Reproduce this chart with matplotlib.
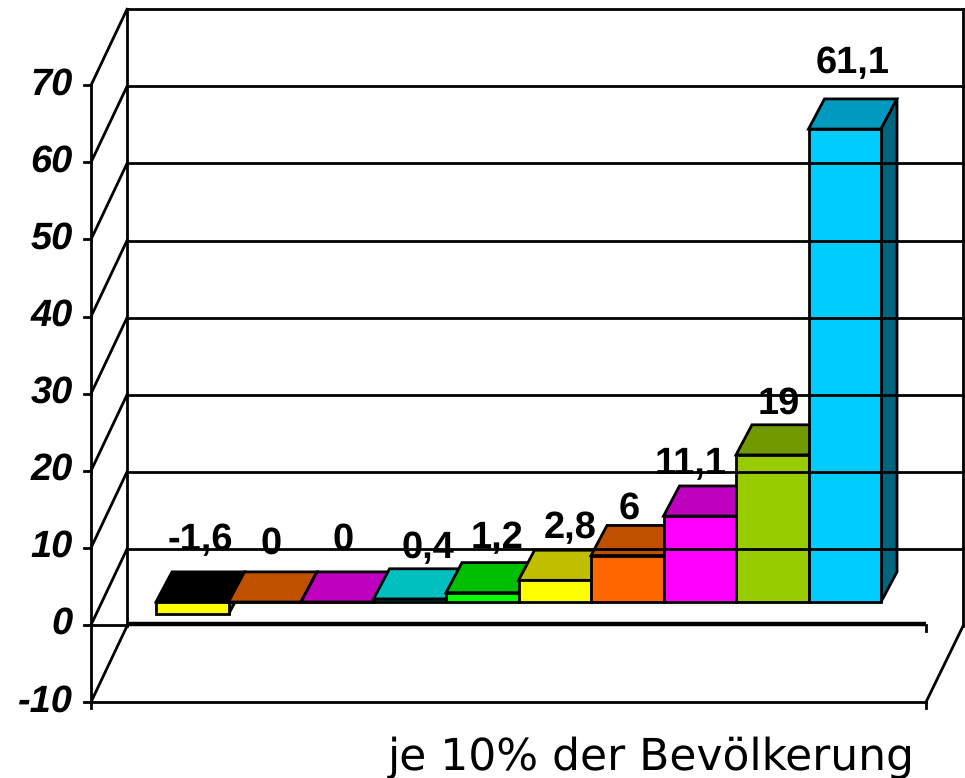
import matplotlib
matplotlib.use("Agg")
import matplotlib.pyplot as plt
from matplotlib.transforms import Affine2D
from matplotlib.patches import Polygon

plt.rcParams["text.hinting"] = "no_hinting"
plt.rcParams["text.hinting_factor"] = 1

values = [-1.6, 0, 0, 0.4, 1.2, 2.8, 6, 11.1, 19, 61.1]
labels = ["-1,6", "0", "0", "0,4", "1,2", "2,8", "6", "11,1", "19", "61,1"]
yticks = [-10, 0, 10, 20, 30, 40, 50, 60, 70]
xlabel = "je 10% der Bevölkerung"
front_colors = ["#FFFF00", "#FF6600", "#FF00FF", "#00FFFF", "#00FF00", "#FFFF00", "#FF6600", "#FF00FF", "#99CC00", "#00CCFF"]
top_colors = ["#000000", "#BF5000", "#BF00BF", "#00BFBF", "#00BF00", "#BFBF00", "#BF5000", "#BF00BF", "#739900", "#0099BF"]
side_colors = ["#808000", "#803300", "#800080", "#008080", "#008000", "#808000", "#803300", "#800080", "#4D6600", "#006680"]
# label centre in pixels relative to the bar top (dx, dy)
label_dx = [8, 6, 6, 18, 15, 15, 2, -9, 7, 8]
label_dy = [-62, -58, -62, -51, -54, -52, -47, -52, -51, -66]

W, H = 965, 778
PX_Y = 7.71
ZERO_PX = 625
STEP = 72.5
fig = plt.figure(figsize=(W / 100, H / 100), dpi=100, facecolor="white")
ax = fig.add_axes([0, 0, 1, 1])
ax.set_xlim(-192.25 / STEP, (W - 192.25) / STEP)
ax.set_ylim(-(H - ZERO_PX) / PX_Y, ZERO_PX / PX_Y)
ax.axis("off")

FONT = "Liberation Sans"
LW = 2.0
wall_l = -0.5 - 65 / STEP
wall_r = 9.5 + 45 / STEP
ymin, ymax = yticks[0], yticks[-1]
zero_disp = H - ZERO_PX
back_dx = 36 / STEP
back_dy = 76 / PX_Y

depth = ax.transData + Affine2D().translate(36, 76)          # back wall
bar_f = ax.transData + Affine2D().translate(0, -zero_disp).scale(1, 1.004).translate(0, zero_disp + 23)

line = dict(color="black", lw=LW, solid_capstyle="projecting", clip_on=False)

# back wall
for t in yticks[1:]:
    ax.plot([wall_l, wall_r + 1 / STEP], [t, t], transform=depth, **line)
ax.plot([wall_l, wall_l], [ymin, ymax], transform=depth, **line)
ax.plot([wall_r + 1 / STEP] * 2, [ymin, ymax], transform=depth, **line)
# front axis, ticks, side wall diagonals, tick labels
ax.plot([wall_l, wall_l], [ymin - 0.8, ymax], **line)
for t in yticks:
    ax.plot([wall_l - 7 / STEP, wall_l], [t, t], **line)
    ax.plot([wall_l, wall_l + back_dx], [t, t + back_dy], **line)
    ax.text(wall_l - 18 / STEP, t + 0.1, str(t), ha="right", va="center",
            family=FONT, fontsize=27, fontweight="bold", style="italic", color="black")
# floor front edge and right diagonal
ax.plot([wall_l, wall_r], [ymin, ymin], **line)
ax.plot([wall_r, wall_r], [ymin - 0.8, ymin], **line)
ax.plot([wall_r, wall_r + back_dx + 1 / STEP], [ymin, ymin + back_dy], **line)
# floor back edge drawn heavy, as in the reference
ax.plot([wall_l + back_dx, wall_r], [0.1, 0.1], color="black", lw=3.2, solid_capstyle="butt", clip_on=False)
ax.plot([wall_l, wall_l + back_dx], [0, 0], **line)
ax.plot([wall_r, wall_r], [0, -0.8], **line)

# bars
edge = dict(edgecolor="black", linewidth=LW, joinstyle="miter", clip_on=False)
dx = 16 / STEP
dy = 30 / PX_Y
for i, v in enumerate(values):
    l, r = i - 0.5, i + 0.5
    hi = max(v, 0)
    lo = min(v, 0)
    ax.add_patch(Polygon([(l, hi), (r, hi), (r + dx, hi + dy), (l + dx, hi + dy)],
                         transform=bar_f, facecolor=top_colors[i], **edge))
    ax.add_patch(Polygon([(r, lo), (r + dx, lo + dy), (r + dx, hi + dy), (r, hi)],
                         transform=bar_f, facecolor=side_colors[i], **edge))
    ax.add_patch(Polygon([(l, lo), (r, lo), (r, hi), (l, hi)],
                         transform=bar_f, facecolor=front_colors[i], **edge))

# data labels
for i, (v, s) in enumerate(zip(values, labels)):
    tf = bar_f + Affine2D().translate(label_dx[i], -label_dy[i])
    ax.text(i, max(v, 0), s, transform=tf, ha="center", va="center",
            family=FONT, fontsize=27, fontweight="bold", color="black", zorder=5)

ax.text(651 / W, 1 - 758 / H, xlabel, transform=fig.transFigure, ha="center", va="center",
        family="DejaVu Sans", fontsize=31.5, color="black")

fig.savefig("out.png", dpi=100, facecolor="white")
